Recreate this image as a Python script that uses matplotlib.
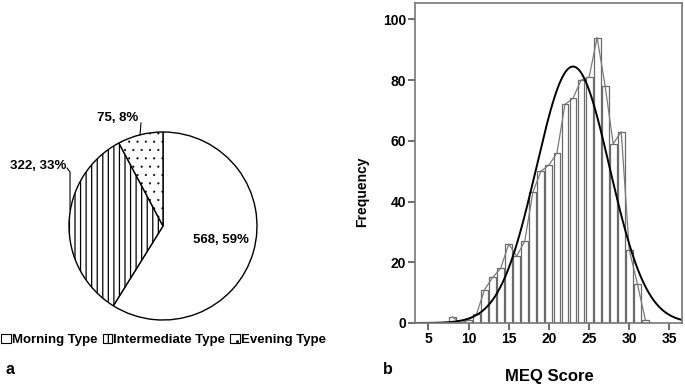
import numpy as np
import matplotlib
matplotlib.use("Agg")
import matplotlib.pyplot as plt
from matplotlib.patches import Patch

plt.rcParams['font.family'] = ['Liberation Sans', 'DejaVu Sans']
plt.rcParams['font.weight'] = 'bold'
plt.rcParams['axes.labelweight'] = 'bold'
plt.rcParams['hatch.linewidth'] = 0.9

# pie data (chronotype)
types = ["Morning Type", "Intermediate Type", "Evening Type"]
counts = [568, 322, 75]
pcts = [59, 33, 8]
hatches = ["", "|||", ".."]

# histogram data (MEQ score)
scores = [8, 9, 10, 11, 12, 13, 14, 15, 16, 17, 18, 19, 20,
          21, 22, 23, 24, 25, 26, 27, 28, 29, 30, 31, 32]
freq = [2, 0, 1, 3, 11, 15, 18, 26, 22, 27, 43, 50, 52,
        56, 72, 74, 80, 81, 94, 78, 59, 63, 24, 13, 1]

W, H = 685, 385
fig = plt.figure(figsize=(6.85, 3.85), dpi=100)

# ---- panel a: pie ----
cx, cy, r = 163, 226, 94
x0, x1, ytop, ybot = 0, 340, 100, 330
axp = fig.add_axes([x0 / W, 1 - ybot / H, (x1 - x0) / W, (ybot - ytop) / H])

wedges, _ = axp.pie(counts, startangle=90, counterclock=False,
                    colors=["white"] * 3,
                    wedgeprops=dict(edgecolor="black", linewidth=1.0))
for w, h in zip(wedges, hatches):
    w.set_hatch(h)
# dots are lighter and smaller than the stripes
try:
    wedges[2].set_hatch_linewidth(0.3)
except AttributeError:
    pass

# pie() resets the limits, so set them afterwards
axp.set_xlim((x0 - cx) / r, (x1 - cx) / r)
axp.set_ylim(-(ybot - cy) / r, (cy - ytop) / r)
axp.axis("off")

lbl = ["{}, {}%".format(c, p) for c, p in zip(counts, pcts)]
axp.text(0.617, -0.15, lbl[0], ha="center", va="center", fontsize=9.5)
axp.text(-1.324, 0.638, lbl[1], ha="center", va="center", fontsize=9.5)
axp.plot([-1.021, -0.989, -0.989], [0.617, 0.574, 0.170], color="black", lw=0.8)
axp.text(-0.479, 1.154, lbl[2], ha="center", va="center", fontsize=9.5)
axp.plot([-0.234, -0.245], [1.096, 0.968], color="black", lw=0.8)

handles = [Patch(facecolor="white", edgecolor="black", hatch=h, linewidth=0.8)
           for h in hatches]
fig.legend(handles, types, loc="center left", bbox_to_anchor=(0.0, 1 - 340 / H),
           ncol=3, frameon=False, fontsize=9.5, handlelength=0.7, handleheight=0.7,
           handletextpad=0.1, columnspacing=0.4, borderpad=0.1, borderaxespad=0)

fig.text(5 / W, 1 - 370 / H, "a", fontsize=11.5, ha="left", va="center")

# ---- panel b: histogram ----
axh = fig.add_axes([415 / W, 1 - 323 / H, 267 / W, 320 / H])
axh.bar(scores, freq, width=0.85, color="white", edgecolor="#6a6a6a", linewidth=0.9)
axh.plot(scores, freq, color="#7a7a7a", lw=0.9)

n = sum(freq)
mean = sum(s * f for s, f in zip(scores, freq)) / n
sd = np.sqrt(sum(f * (s - mean) ** 2 for s, f in zip(scores, freq)) / (n - 1))
xlo, xhi = 3.34, 36.56
xs = np.linspace(xlo, xhi, 400)
ys = n / (sd * np.sqrt(2 * np.pi)) * np.exp(-0.5 * ((xs - mean) / sd) ** 2)
axh.plot(xs, ys, color="black", lw=1.4)

axh.set_xlim(xlo, xhi)
axh.set_ylim(0, 105.4)
axh.set_xticks([5, 10, 15, 20, 25, 30, 35])
axh.set_yticks([0, 20, 40, 60, 80, 100])
for sp in axh.spines.values():
    sp.set_color("#777777")
    sp.set_linewidth(1.2)
axh.tick_params(axis="both", colors="#555555", labelcolor="black", labelsize=10,
                width=1.2, length=5, pad=1.5)
for t in axh.get_xticklabels() + axh.get_yticklabels():
    t.set_fontweight("bold")
axh.set_ylabel("Frequency", fontsize=10)
axh.yaxis.set_label_coords(-0.17, 0.41)

fig.text(549 / W, 1 - 376 / H, "MEQ Score", fontsize=12, ha="center", va="center")
fig.text(383 / W, 1 - 370 / H, "b", fontsize=11.5, ha="left", va="center")

fig.savefig("out.png", dpi=100)
